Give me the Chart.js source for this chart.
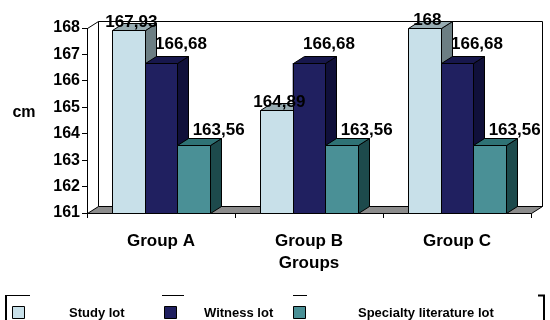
<!DOCTYPE html>
<html>
<head>
<meta charset="utf-8">
<script src="https://cdn.jsdelivr.net/npm/chart.js@4"></script>
<style>
  html, body { margin: 0; padding: 0; background: #fff; }
  #wrap { width: 550px; height: 320px; }
</style>
</head>
<body>
<div id="wrap"><canvas id="heightChart"></canvas></div>
<script>
const groups = ["Group A", "Group B", "Group C"];
const studyLot = [167.93, 164.89, 168];
const witnessLot = [166.68, 166.68, 166.68];
const specialtyLot = [163.56, 163.56, 163.56];
const seriesNames = ["Study lot", "Witness lot", "Specialty literature lot"];
const yTicks = [161, 162, 163, 164, 165, 166, 167, 168];

const FONT = "'Liberation Sans', Arial, sans-serif";
const DX = 11, DY = 7; // 3d depth
const frontCol = ["#c8e0e9", "#202060", "#4a9096"];
const topCol = ["#98acb2", "#17174c", "#2f7275"];
const sideCol = ["#6c7e83", "#10103a", "#1d4a4c"];
const labelShift = [[3, -8], [20, -19], [25, -15]];

Chart.defaults.font.family = FONT;
Chart.defaults.color = "#000";

function poly(ctx, pts, fill) {
  ctx.beginPath();
  ctx.moveTo(pts[0][0], pts[0][1]);
  for (let i = 1; i < pts.length; i++) ctx.lineTo(pts[i][0], pts[i][1]);
  ctx.closePath();
  ctx.fillStyle = fill;
  ctx.fill();
  ctx.stroke();
}

const walls = {
  id: "walls",
  beforeDatasetsDraw(chart) {
    const { ctx, chartArea: a } = chart;
    ctx.save();
    ctx.strokeStyle = "#000";
    ctx.lineWidth = 1;
    const l = a.left + 0.5, r = Math.round(a.right) + 0.5, t = a.top + 0.5, b = Math.round(a.bottom) + 0.5;
    // back wall
    poly(ctx, [[l + DX, t - DY], [r + DX, t - DY], [r + DX, b - DY], [l + DX, b - DY]], "#fff");
    // left wall edge
    ctx.beginPath();
    ctx.moveTo(l, t); ctx.lineTo(l + DX, t - DY);
    ctx.stroke();
    // floor
    poly(ctx, [[l, b], [r, b], [r + DX, b - DY], [l + DX, b - DY]], "#8c8c8c");
    ctx.restore();
  },
  afterDatasetsDraw(chart) {
    const { ctx } = chart;
    ctx.save();
    ctx.strokeStyle = "#000";
    ctx.lineWidth = 1;
    const metas = chart.data.datasets.map((d, i) => chart.getDatasetMeta(i));
    for (let i = 0; i < groups.length; i++) {
      metas.forEach((m, d) => {
        const bar = m.data[i];
        const x0 = Math.round(bar.x - bar.width / 2) + 0.5;
        const x1 = Math.round(bar.x + bar.width / 2) + 0.5;
        const yt = Math.round(bar.y) + 0.5;
        const yb = Math.round(bar.base) + 0.5;
        poly(ctx, [[x1, yt], [x1 + DX, yt - DY], [x1 + DX, yb - DY], [x1, yb]], sideCol[d]);
        poly(ctx, [[x0, yt], [x1, yt], [x1 + DX, yt - DY], [x0 + DX, yt - DY]], topCol[d]);
        poly(ctx, [[x0, yt], [x1, yt], [x1, yb], [x0, yb]], frontCol[d]);
      });
    }
    // value labels
    ctx.fillStyle = "#000";
    ctx.font = "bold 17px " + FONT;
    ctx.textAlign = "center";
    ctx.textBaseline = "middle";
    metas.forEach((m, d) => {
      m.data.forEach((bar, i) => {
        const v = chart.data.datasets[d].data[i];
        ctx.fillText(String(v).replace(".", ","), bar.x + labelShift[d][0], bar.y + labelShift[d][1]);
      });
    });
    ctx.restore();
  },
  afterDraw(chart) {
    const { ctx } = chart;
    ctx.save();
    ctx.fillStyle = "#000";
    ctx.strokeStyle = "#000";
    ctx.lineWidth = 1;
    ctx.font = "bold 16px " + FONT;
    ctx.textAlign = "center";
    ctx.textBaseline = "middle";
    ctx.fillText("cm", 24, 113);

    // legend
    const boxX = [12, 164, 293];
    const textX = [69, 204, 358];
    const lineSeg = [[5, 30], [162, 184], [293, 307]];
    ctx.font = "bold 13px " + FONT;
    ctx.textAlign = "left";
    ctx.textBaseline = "alphabetic";
    chart.data.datasets.forEach((ds, d) => {
      poly(ctx, [[boxX[d] + 0.5, 306.5], [boxX[d] + 12.5, 306.5], [boxX[d] + 12.5, 318.5], [boxX[d] + 0.5, 318.5]], frontCol[d]);
      ctx.fillStyle = "#000";
      ctx.fillText(ds.label, textX[d], 317);
      ctx.beginPath();
      ctx.moveTo(lineSeg[d][0], 295.5); ctx.lineTo(lineSeg[d][1], 295.5);
      ctx.stroke();
    });
    ctx.lineWidth = 2;
    ctx.beginPath();
    ctx.moveTo(6, 295); ctx.lineTo(6, 320);
    ctx.moveTo(538, 295.5); ctx.lineTo(544, 295.5); ctx.lineTo(544, 320);
    ctx.stroke();
    ctx.restore();
  }
};

const seriesData = [studyLot, witnessLot, specialtyLot];

new Chart(document.getElementById("heightChart"), {
  type: "bar",
  data: {
    labels: groups,
    datasets: seriesData.map((vals, d) => ({
      label: seriesNames[d],
      data: vals,
      base: yTicks[0],
      backgroundColor: frontCol[d],
      borderWidth: 0,
      categoryPercentage: 0.662,
      barPercentage: 1
    }))
  },
  options: {
    responsive: true,
    maintainAspectRatio: false,
    animation: false,
    devicePixelRatio: 1,
    layout: { padding: { top: 28, right: 19, bottom: 30, left: 0 } },
    plugins: { legend: { display: false }, tooltip: { enabled: false } },
    scales: {
      x: {
        afterFit: s => { s.height = 77; },
        grid: { offset: true, drawOnChartArea: false, drawTicks: true, tickLength: 5, color: "#000" },
        border: { display: true, color: "#000" },
        ticks: { color: "#000", font: { size: 17, weight: "bold" }, padding: 13, maxRotation: 0 },
        title: { display: true, text: "Groups", color: "#000", font: { size: 17, weight: "bold" }, padding: { top: 0, bottom: 16 } }
      },
      y: {
        min: yTicks[0],
        max: yTicks[yTicks.length - 1],
        afterFit: s => { s.width = 87; },
        afterBuildTicks: s => { s.ticks = yTicks.map(v => ({ value: v })); },
        grid: { drawOnChartArea: false, drawTicks: true, tickLength: 5, color: "#000" },
        border: { display: true, color: "#000" },
        ticks: { color: "#000", font: { size: 16, weight: "bold" }, padding: 2 }
      }
    }
  },
  plugins: [walls]
});
</script>
</body>
</html>
